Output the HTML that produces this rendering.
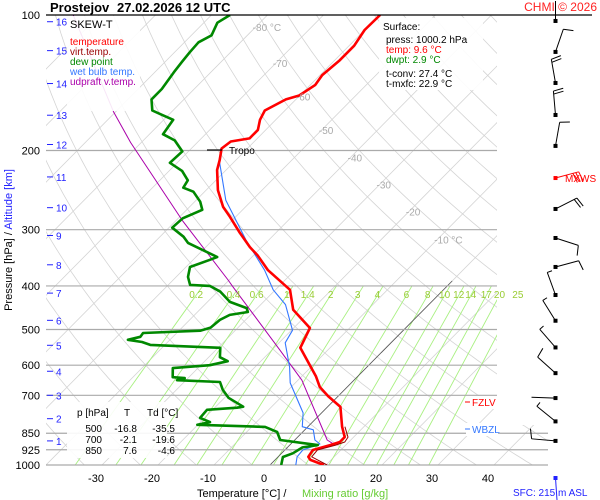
<!DOCTYPE html>
<html><head><meta charset="utf-8"><style>
body{margin:0;background:#fff}
svg{display:block;font-family:"Liberation Sans",sans-serif}
</style></head><body>
<svg id="c" width="600" height="500" viewBox="0 0 600 500" xmlns="http://www.w3.org/2000/svg">
<defs><clipPath id="clip"><rect x="46" y="15" width="451" height="450"/><rect x="497" y="425" width="51" height="40"/></clipPath></defs>
<rect x="0" y="0" width="600" height="500" fill="#fff"/>
<g id="grid" clip-path="url(#clip)"></g>
<g id="plines"></g>
<g id="series" clip-path="url(#clip)"></g>
<g id="labels"></g>
<g id="winds"></g>
<line x1="46" y1="15" x2="592" y2="15" stroke="#000" stroke-width="1.2"/>
<g font-size="13" font-weight="bold">
<text x="50" y="12">Prostejov</text><text x="117" y="12">27.02.2026 12 UTC</text></g>
<text x="597" y="11" font-size="12" fill="#f22" text-anchor="end">CHMI © 2026</text>
<g>
<rect x="67" y="16" width="73" height="95" fill="#fff" opacity="0.9"/>
<text x="70" y="28" font-size="11">SKEW-T</text>
<text x="70" y="45" font-size="10" fill="#f00">temperature</text>
<text x="70" y="55" font-size="10" fill="#900">virt.temp.</text>
<text x="70" y="65" font-size="10" fill="#080">dew point</text>
<text x="70" y="75" font-size="10" fill="#37f">wet bulb temp.</text>
<text x="70" y="85" font-size="10" fill="#a0a">udpraft v.temp.</text>
</g>
<g>
<rect x="379" y="18" width="104" height="72" fill="#fff" opacity="0.9"/>
<text x="383" y="30" font-size="10">Surface:</text>
<text x="386" y="43" font-size="10">press: 1000.2 hPa</text>
<text x="386" y="53" font-size="10" fill="#f00">temp: 9.6 °C</text>
<text x="386" y="63" font-size="10" fill="#080">dwpt: 2.9 °C</text>
<text x="386" y="77" font-size="10">t-conv: 27.4 °C</text>
<text x="386" y="87" font-size="10">t-mxfc: 22.9 °C</text>
</g>
<g font-size="10">
<rect x="67" y="402" width="100" height="56" fill="#fff" opacity="0.9"/>
<text x="77" y="416">p [hPa]</text><text x="124" y="416">T</text><text x="147" y="416">Td [°C]</text>
<text x="102" y="432" text-anchor="end">500</text><text x="137" y="432" text-anchor="end">-16.8</text><text x="175" y="432" text-anchor="end">-35.5</text>
<text x="102" y="443" text-anchor="end">700</text><text x="137" y="443" text-anchor="end">-2.1</text><text x="175" y="443" text-anchor="end">-19.6</text>
<text x="102" y="454" text-anchor="end">850</text><text x="137" y="454" text-anchor="end">7.6</text><text x="175" y="454" text-anchor="end">-4.6</text>
</g>
<g>
<line x1="207" y1="150" x2="222" y2="150" stroke="#000" stroke-width="1.2"/>
<text x="229" y="154" font-size="10">Tropo</text>
</g>
<g><rect x="466" y="396" width="32" height="13" fill="#fff"/><line x1="465" y1="402" x2="470" y2="402" stroke="#f00"/><text x="472" y="406" font-size="10" fill="#f00">FZLV</text></g>
<g><rect x="466" y="423" width="32" height="13" fill="#fff"/><line x1="465" y1="429" x2="470" y2="429" stroke="#37f"/><text x="472" y="433" font-size="10" fill="#37f">WBZL</text></g>
<g><text x="565" y="182" font-size="10" fill="#f00">MXWS</text></g>
<text x="513" y="496" font-size="10" fill="#22f">SFC: 215 m ASL</text>
<text x="197" y="497" font-size="11">Temperature [°C]  / </text>
<text x="302" y="497" font-size="11" fill="#6c3">Mixing ratio [g/kg]</text>
<text transform="translate(12,240) rotate(-90)" font-size="11" text-anchor="middle">Pressure [hPa]  /  <tspan fill="#22f">Altitude [km]</tspan></text>
</svg>
<script>
const pressureTicks=[100,200,300,400,500,600,700,850,925,1000];
const tempTicks=[-30,-20,-10,0,10,20,30,40];
const isoLabels=[-80,-70,-60,-50,-40,-30,-20,-10];
const isoLabelP=[106.3,127.9,151.7,179.9,207.1,238.3,273.4,315.5];
const mixRatios=[0.2,0.4,0.6,1,1.4,2,3,4,6,8,10,12,14,17,20,25];
const altKm=[16,15,14,13,12,11,10,9,8,7,6,5,4,3,2,1];
const altP=[103.5,120,142,167,194,229,268,309,359,415,477,542,619,700,789,884];
const tempP=[1000,974,959,926,903,889,867,822,743,703,671,635,549,496,452,408,369,342,328,305,281,267,245,221,210,198,191,188,180,171,163,154,151,143,136,126,117,108,100];
const tempT=[9.6,6.3,5.4,5.0,7.2,8.4,8.4,6.1,2.3,-1.8,-4.9,-7.5,-15.3,-17.1,-23.3,-27.4,-34.8,-39.3,-42.1,-46.4,-51.0,-54.0,-57.9,-61.6,-62.9,-64.6,-64.2,-61.4,-61.4,-62.8,-63.6,-61.8,-60.1,-59.1,-59.6,-59.1,-59.1,-60.0,-59.9];
const virtP=[1000,959,926,903,889,867,822];
const virtT=[10.2,6.0,5.8,8.2,9.3,9.0,6.6];
const dewP=[1000,960,942,914,903,880,844,823,814,803,786,754,746,742,709,681,654,648,641,638,609,600,588,576,549,541,533,527,519,509,503,495,476,464,457,448,434,412,400,398,382,363,350,345,321,311,297,283,271,260,247,242,233,222,213,201,190,184,171,167,163,154,146,134,127,121,115,111,104,100];
const dewT=[2.0,0.9,2.0,2.7,5.0,-2.6,-4.6,-7.6,-20.1,-18.3,-20.8,-21.0,-16.0,-15.1,-19.3,-21.7,-23.6,-31.6,-30.6,-32.9,-34.5,-28.4,-25.9,-28.0,-29.6,-42.6,-44.6,-47.5,-45.8,-46.0,-36.2,-34.9,-34.6,-33.7,-31.0,-31.9,-36.0,-39.5,-42.4,-46.1,-47.9,-49.3,-47.0,-46.2,-53.9,-55.8,-59.4,-59.2,-57.2,-59.0,-62.0,-64.5,-65.0,-67.7,-71.3,-71.1,-74.4,-77.6,-78.3,-81.0,-83.7,-85.8,-85.8,-86.6,-87.0,-87.3,-87.5,-86.4,-87.6,-86.7];
const wbP=[1000,959,926,898,880,835,822,766,657,606,535,502,440,408,369,316,258,210];
const wbT=[4.6,3.4,3.2,5.2,3.6,1.5,-1.0,-3.3,-10.9,-13.8,-18.9,-19.8,-25.6,-30.4,-35.4,-44.1,-54.7,-63.0];
const parcelP=[903,880,648,555,482,402,388,286,192,164,100];
const parcelT=[8.1,5.8,-9.3,-18.6,-27.1,-38.1,-40.2,-58.9,-81.9,-90.4,-114.7];
const windP=[103.1,120.8,141.6,166.8,195.4,230.3,269.8,313,363,419,478,548,625,710,800,884];
const windDir=[0,19,350,355,10,75,63,108,75,340,328,319,312,272,309,275];
const windSpd=[0,10,20,20,10,30,20,10,10,5,5,5,10,3,5,10];

const NS='http://www.w3.org/2000/svg';
function yOf(p){return 15+450*Math.log10(p/100);}
function xOf(T,p){return 270+5.6*T+0.99*(465-yOf(p));}
function mk(tag,attrs,parent){const e=document.createElementNS(NS,tag);for(const k in attrs)e.setAttribute(k,attrs[k]);parent.appendChild(e);return e;}
const grid=document.getElementById('grid'),pl=document.getElementById('plines'),ser=document.getElementById('series'),lab=document.getElementById('labels'),wg=document.getElementById('winds');

for(let T=-160;T<=50;T+=10){
  const l=mk('line',{x1:xOf(T,1000),y1:yOf(1000),x2:xOf(T,100),y2:yOf(100),stroke:'#d4d4d4','stroke-width':0.8},grid);
  
  
}
for(let th=240;th<=500;th+=10){
  let d='';
  for(let p=1000;p>=100;p-=10){const T=th*Math.pow(p/1000,0.286)-273.15;d+=(p===1000?'M':'L')+xOf(T,p).toFixed(1)+','+yOf(p).toFixed(1);}
  const a=mk('path',{d:d,fill:'none',stroke:'#d4d4d4','stroke-width':0.8},grid);
  
  
}
function tdFromW(w,p){const e=w*p/(622+w);const L=Math.log(e/6.112);return 243.5*L/(17.67-L);}
mixRatios.forEach(w=>{
  const m=mk('line',{x1:xOf(tdFromW(w,1000),1000),y1:yOf(1000),x2:xOf(tdFromW(w,400),400),y2:yOf(400),stroke:'#a8f080','stroke-width':0.9},grid);
  
  
  const t=mk('text',{x:xOf(tdFromW(w,419),419),y:298,'font-size':10,fill:'#9c3','text-anchor':'middle'},lab);
  t.textContent=String(w);
  
  
});
const z=mk('line',{x1:xOf(0,1000),y1:yOf(1000),x2:xOf(0,390),y2:yOf(390),stroke:'#555','stroke-width':0.8},grid);


pressureTicks.forEach(p=>{
  const y=yOf(p);
  if(p!==100){
    const x2=(p>=850)?548:497;
    const l=mk('line',{x1:46,y1:y,x2:x2,y2:y,stroke:'#aaa','stroke-width':1.2},pl);
    
    
  }
  const t=mk('text',{x:40,y:y+4,'font-size':11,'text-anchor':'end'},lab);
  t.textContent=String(p);
  
  
});
tempTicks.forEach(T=>{
  const t=mk('text',{x:264+5.6*T,y:482,'font-size':11,'text-anchor':'middle'},lab);
  t.textContent=String(T);
  
  
});
isoLabels.forEach((T,i)=>{
  const p=isoLabelP[i];
  const t=mk('text',{x:xOf(T,p)-3,y:yOf(p)+4,'font-size':10,fill:'#aaa'},lab);
  t.textContent=(T===-80||T===-10)?T+' °C':String(T);
  
  
});
altKm.forEach((k,i)=>{
  const y=yOf(altP[i]);
  const l=mk('line',{x1:47,y1:y,x2:53,y2:y,stroke:'#22f','stroke-width':1},lab);
  
  
  const t=mk('text',{x:56,y:y+4,'font-size':10,fill:'#22f'},lab);
  t.textContent=String(k);
  
  
});
function series(P,T,color,w,name){
  let d='';P.forEach((p,i)=>{d+=(i?'L':'M')+xOf(T[i],p).toFixed(1)+','+yOf(p).toFixed(1);});
  const s=mk('path',{d:d,fill:'none',stroke:color,'stroke-width':w,'stroke-linejoin':'round'},ser);
  
  
}
series(parcelP,parcelT,'#a0a',1,'updraft-line');
series(wbP,wbT,'#37f',1.1,'wet-bulb-line');
series(dewP,dewT,'#080',2.6,'dew-point-line');
series(tempP,tempT,'#f00',2.6,'temperature-line');
series(virtP,virtT,'#900',1,'virtual-temperature-line');
windP.forEach((p,i)=>{
  const x0=555.5,y0=yOf(p),d=windDir[i]*Math.PI/180;
  const len=(i===0)?(y0-1):24;
  const ux=Math.sin(d),uy=-Math.cos(d),px=Math.cos(d),py=Math.sin(d);
  const col=(i===5)?'#f00':'#000';
  const g=mk('g',{},wg);
  
  
  const tx=x0+ux*len,ty=y0+uy*len;
  mk('line',{x1:x0,y1:y0,x2:tx,y2:ty,stroke:col,'stroke-width':1},g);
  mk('rect',{x:x0-2,y:y0-2,width:4,height:4,fill:col},g);
  let s=windSpd[i],k=0;
  while(s>=10){const bx=tx-ux*3*k,by=ty-uy*3*k;mk('line',{x1:bx,y1:by,x2:bx+px*10+ux*2,y2:by+py*10+uy*2,stroke:col,'stroke-width':1},g);s-=10;k++;}
  if(s>=5){const bx=tx-ux*3*k,by=ty-uy*3*k;mk('line',{x1:bx,y1:by,x2:bx+px*5,y2:by+py*5,stroke:col,'stroke-width':1},g);}
});
const sb=mk('g',{},wg);


mk('line',{x1:555.5,y1:478,x2:557,y2:500,stroke:'#22f','stroke-width':1},sb);
mk('rect',{x:553.5,y:476,width:4,height:4,fill:'#22f'},sb);
</script>
</body></html>
